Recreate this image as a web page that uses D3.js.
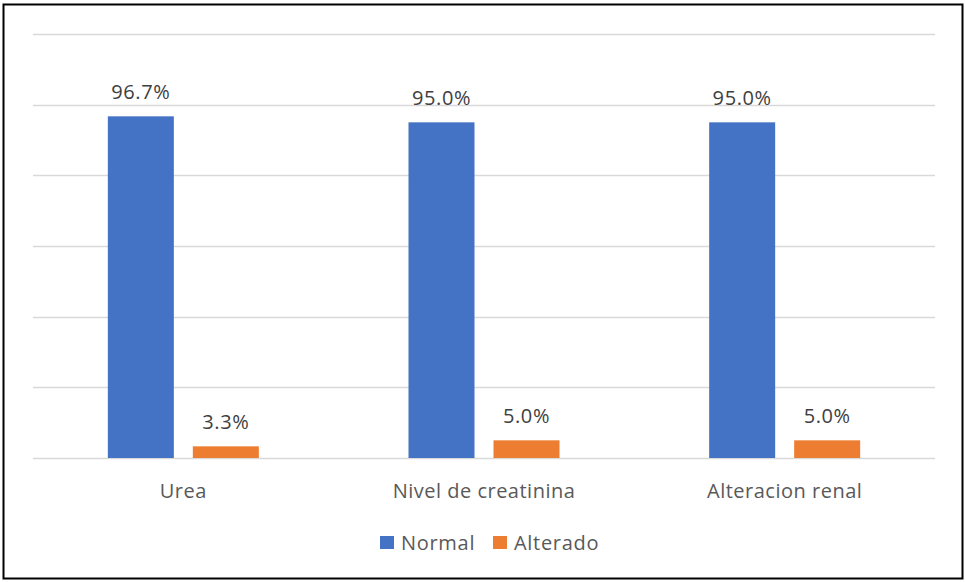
<!DOCTYPE html>
<html>
<head>
<meta charset="utf-8">
<script src="https://cdn.jsdelivr.net/npm/d3@7"></script>
<style>
  html, body { margin: 0; padding: 0; background: #fff; }
  svg { display: block; font-family: "Open Sans", "Noto Sans", sans-serif; }
</style>
</head>
<body>
<svg id="chart" width="965" height="582"></svg>
<script>
// Categories and series (percentages)
const categories = ["Urea", "Nivel de creatinina", "Alteracion renal"];
const seriesNames = ["Normal", "Alterado"];
const normalValues = [96.7, 95.0, 95.0];
const alteradoValues = [3.3, 5.0, 5.0];
const yTicks = [0, 20, 40, 60, 80, 100, 120];
const seriesColors = ["#4472C4", "#ED7D31"];

const svg = d3.select("#chart");

// outer frame
svg.append("rect")
  .attr("x", 3.5).attr("y", 4.5)
  .attr("width", 959).attr("height", 574)
  .attr("fill", "#fff")
  .attr("stroke", "#000").attr("stroke-width", 2);

const plot = { left: 33, right: 935, top: 34, bottom: 458 };

const x0 = d3.scaleBand()
  .domain(categories)
  .range([plot.left, plot.right])
  .paddingInner(0).paddingOuter(0);

const y = d3.scaleLinear()
  .domain([0, 120])
  .range([plot.bottom, plot.top]);

// gridlines
svg.append("g")
  .selectAll("line")
  .data(yTicks)
  .join("line")
  .attr("x1", plot.left).attr("x2", plot.right)
  .attr("y1", d => Math.round(y(d)) + 0.5)
  .attr("y2", d => Math.round(y(d)) + 0.5)
  .attr("stroke", "#d9d9d9").attr("stroke-width", 1.5);

// bars: two per category
const barW = 66, gap = 19;
const rows = categories.map((c, i) => ({
  cat: c,
  vals: [normalValues[i], alteradoValues[i]]
}));

const groups = svg.append("g")
  .selectAll("g")
  .data(rows)
  .join("g")
  .attr("transform", d => `translate(${x0(d.cat) + x0.bandwidth() / 2},0)`);

const x1 = d3.scaleBand()
  .domain(seriesNames)
  .range([-(barW + gap / 2), barW + gap / 2])
  .paddingInner(gap / (barW + gap))
  .paddingOuter(0);

const cells = d => d.vals.map((v, j) => ({ s: seriesNames[j], v, j }));

groups.selectAll("rect")
  .data(cells)
  .join("rect")
  .attr("x", d => x1(d.s))
  .attr("width", x1.bandwidth())
  .attr("y", d => y(d.v))
  .attr("height", d => y(0) - y(d.v))
  .attr("fill", d => seriesColors[d.j]);

// value labels
groups.selectAll("text")
  .data(cells)
  .join("text")
  .attr("x", d => x1(d.s) + x1.bandwidth() / 2)
  .attr("y", d => y(d.v) - 17)
  .attr("text-anchor", "middle")
  .attr("font-size", 20)
  .attr("letter-spacing", 0.6)
  .attr("fill", "#404040")
  .text(d => d.v.toFixed(1) + "%");

// category labels
svg.append("g")
  .selectAll("text")
  .data(categories)
  .join("text")
  .attr("x", d => x0(d) + x0.bandwidth() / 2)
  .attr("y", 498)
  .attr("text-anchor", "middle")
  .attr("font-size", 20)
  .attr("letter-spacing", 0.5)
  .attr("fill", "#595959")
  .text(d => d);

// legend
const legend = svg.append("g");
const legendItems = [
  { name: seriesNames[0], color: seriesColors[0], x: 380 },
  { name: seriesNames[1], color: seriesColors[1], x: 493 }
];
legend.selectAll("rect")
  .data(legendItems)
  .join("rect")
  .attr("x", d => d.x).attr("y", 536)
  .attr("width", 14).attr("height", 13)
  .attr("fill", d => d.color);
legend.selectAll("text")
  .data(legendItems)
  .join("text")
  .attr("x", d => d.x + 21).attr("y", 550)
  .attr("font-size", 20)
  .attr("letter-spacing", 0.7)
  .attr("fill", "#595959")
  .text(d => d.name);
</script>
</body>
</html>
